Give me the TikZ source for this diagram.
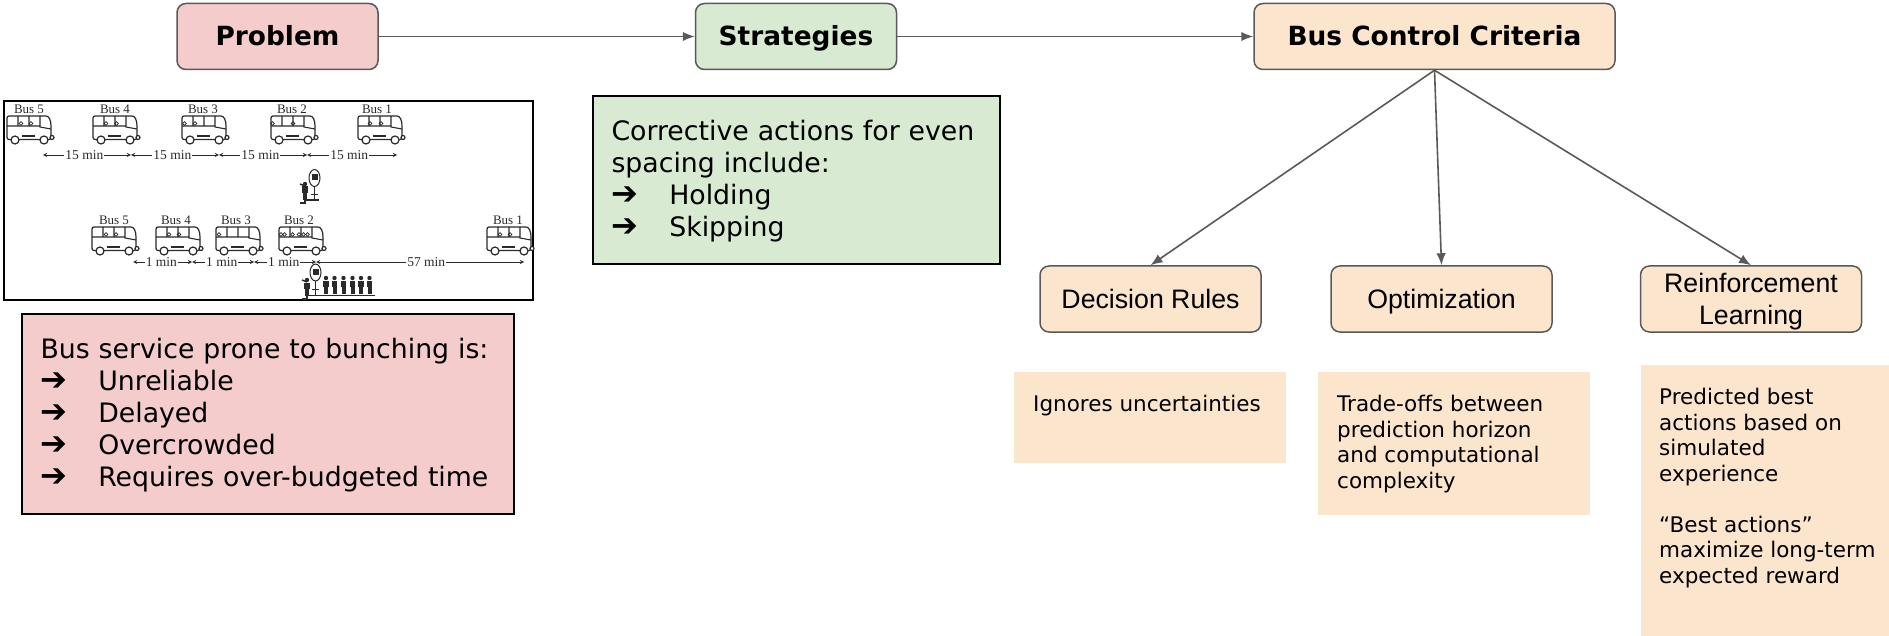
\documentclass[tikz,border=0pt]{standalone}
\usepackage{fontspec}
\setmainfont{DejaVu Sans}
\newfontfamily\labelfont{Liberation Sans}
\newfontfamily\figfont{Liberation Serif}
\usetikzlibrary{arrows.meta}

\definecolor{problemred}{HTML}{F4CCCC}
\definecolor{strategygreen}{HTML}{D9EAD3}
\definecolor{controlpeach}{HTML}{FCE5CD}
\definecolor{flowgray}{HTML}{595959}
\definecolor{figink}{HTML}{2A2A2A}

\tikzset{
headbox/.style={draw=flowgray, line width=1.5pt, rounded corners=9pt, minimum height=66pt, text height=23pt, text depth=5pt, font=\fontsize{26.4}{32}\selectfont\bfseries},
subbox/.style={draw=flowgray, line width=1.5pt, rounded corners=9pt, minimum width=221pt, minimum height=66pt, fill=controlpeach, align=center, font=\labelfont\fontsize{26.7}{32}\selectfont},
oneline/.style={text height=24pt, text depth=6pt},
textbox/.style={draw=black, line width=2pt, align=left, anchor=north west, font=\fontsize{26.75}{32}\selectfont},
notebox/.style={fill=controlpeach, anchor=north west},
notetext/.style={anchor=north west, align=left, inner sep=0pt, font=\fontsize{21.5}{25.5}\selectfont},
flow/.style={-{Latex[length=12pt,width=9.5pt]}, draw=flowgray, line width=1.6pt},
gap/.style={<->, >=stealth, draw=figink, line width=0.9pt},
gaplabel/.style={fill=white, inner sep=1pt, text=figink, font=\figfont\fontsize{13.5}{15}\selectfont},
buslabel/.style={text=figink, inner sep=0pt, font=\figfont\fontsize{13}{15}\selectfont},
pics/coach/.style={code={
  \draw[figink, line width=1.2pt, rounded corners=2pt] (0,23.5) -- (0,0) -- (37,0) .. controls (42,0) and (44,4) .. (44,12) -- (44,23.5) -- cycle;
  \draw[figink, line width=1.1pt] (0,10) -- (33,10) (33,0) -- (33,11) -- (44,13) (11,0) -- (11,10) (22,0) -- (22,10);
  \draw[figink, line width=1.4pt] (15,20) -- (28,20);
  \draw[figink, line width=1.2pt, fill=white] (8,24) circle (4pt) (37,24) circle (4pt) (45,21.5) circle (2pt);
  \foreach \s in {#1}
     \draw[figink, line width=0.7pt] (\s,7.5) circle (1.8pt);
}},
pics/waiter/.style={code={
  \fill[figink] (0,-16) circle (2.2pt);
  \fill[figink] (-2.8,-13.5) rectangle (2.8,-7);
  \fill[figink] (-2,-7) rectangle (2,0);
}},
pics/signpost/.style={code={
  \draw[figink, line width=1pt] (0,-22) ellipse (5.5pt and 8.5pt);
  \fill[figink] (-3,-25.5) rectangle (3,-19.5);
  \draw[figink, line width=1pt] (0,-13.5) -- (0,0) (-3.5,-5) -- (3.5,-5);
}}
}
% one arrow item of a bullet list
\newcommand{\arrowitem}[1]{\makebox[1em][l]{\scalebox{1.2}{\bfseries ➔}}\hspace{1.16em}#1}

\begin{document}
\begin{tikzpicture}[x=1pt,y=-1pt]
\useasboundingbox (0,0) rectangle (1889,636);

% top row
\node[headbox, fill=problemred, minimum width=201pt] (problem) at (277.5,36.5) {Problem};
\node[headbox, fill=strategygreen, minimum width=201pt] (strategies) at (796,36.5) {Strategies};
\node[headbox, fill=controlpeach, minimum width=361pt] (criteria) at (1434.5,36.5) {Bus Control Criteria};

\draw[flow] (problem) -- (strategies);
\draw[flow] (strategies) -- (criteria);

% criteria and what each one does
\node[subbox, oneline] (rules) at (1150.5,299) {Decision Rules};
\node[subbox, oneline] (optim) at (1441.5,299) {Optimization};
\node[subbox, text depth=0pt] (rl) at (1751,299) {Reinforcement\\Learning};

\draw[flow] (criteria.south) -- (rules.north);
\draw[flow] (criteria.south) -- (optim.north);
\draw[flow] (criteria.south) -- (rl.north);

\node[notebox, minimum width=272pt, minimum height=91pt] (rulesnote) at (1014,372) {};
\node[notebox, minimum width=272pt, minimum height=143pt] (optimnote) at (1318,372) {};
\node[notebox, minimum width=248pt, minimum height=271pt] (rlnote) at (1641,365) {};
\node[notetext] (rulestext) at (1033,395) {Ignores uncertainties};
\node[notetext] (optimtext) at (1337,395) {Trade-offs between\\prediction horizon\\and computational\\complexity};
\node[notetext] (rltext) at (1659,388) {Predicted best\\actions based on\\simulated\\experience\\[25.5pt]“Best actions”\\maximize long-term\\expected reward};

% text boxes
\node[textbox, fill=problemred, minimum width=492pt, minimum height=200pt, text width=455pt, inner sep=18pt] (problemtext) at (21,313) {\rule{0pt}{22.5pt}Bus service prone to bunching is:\\\arrowitem{Unreliable}\\\arrowitem{Delayed}\\\arrowitem{Overcrowded}\\\arrowitem{Requires over-budgeted time}};
\node[textbox, fill=strategygreen, minimum width=407pt, minimum height=168pt, text width=370pt, inner sep=18pt] (strategytext) at (592,95) {\rule{0pt}{22.5pt}Corrective actions for even\\spacing include:\\\arrowitem{Holding}\\\arrowitem{Skipping}};

% bunching figure
\node[draw=black, line width=2pt, minimum width=529pt, minimum height=199pt, anchor=north west] (busframe) at (3,100) {};

\foreach \n/\x in {5/29,4/115,3/203,2/292,1/377}
     \node[buslabel] (evenbus\n) at (\x,109) {Bus \n};
\foreach \n/\x in {5/114,4/176,3/236,2/299,1/508}
     \node[buslabel] (bunchbus\n) at (\x,220) {Bus \n};

\pic at (7,116) {coach={14,24}};
\pic at (93,116) {coach={13,23.5}};
\pic at (182,116) {coach={2.5,13}};
\pic at (271,116) {coach={1.5,22}};
\pic at (358,116) {coach={12,23}};

\pic at (92,227) {coach={14,24}};
\pic at (156,227) {coach={13,23}};
\pic at (216,227) {coach={3}};
\pic at (279,227) {coach={2,5.5,13.5,20,24.5,28.5}};
\pic at (487,227) {coach={13,23}};

% headways
\foreach \n/\x in {0/43,1/131,2/219,3/307,4/397}
     \coordinate (even\n) at (\x,155);
\foreach \n/\x in {0/133,1/192,2/254,3/316,4/524}
     \coordinate (bunch\n) at (\x,262);

\foreach \a/\b in {0/1,1/2,2/3,3/4}
     \draw[gap] (even\a) -- (even\b) node[gaplabel,pos=0.47] (evenlabel\a) {15 min};
\foreach \a/\b in {0/1,1/2,2/3}
     \draw[gap] (bunch\a) -- (bunch\b) node[gaplabel,pos=0.48] (bunchlabel\a) {1 min};
\draw[gap] (bunch3) -- (bunch4) node[gaplabel,pos=0.53] (bunchlabel3) {57 min};

% stops
\pic at (314.5,200) {signpost};
\pic at (305,200) {waiter};
\draw[figink, line width=1.2pt] (300,203) -- (305,203) -- (305,200) -- (319,200);
\draw[figink, line width=1.4pt] (305,186) -- (300,184);

\pic at (315.5,294.5) {signpost};
\pic at (307,296) {waiter};
\draw[figink, line width=1.2pt] (302,299) -- (307,299) -- (307,295.5) -- (375,295.5);
\draw[figink, line width=1.4pt] (307,282) -- (302,280);
\foreach \x in {326,334.5,343.5,352.5,361,369.5}
     \pic at (\x,294) {waiter};

\end{tikzpicture}
\end{document}
